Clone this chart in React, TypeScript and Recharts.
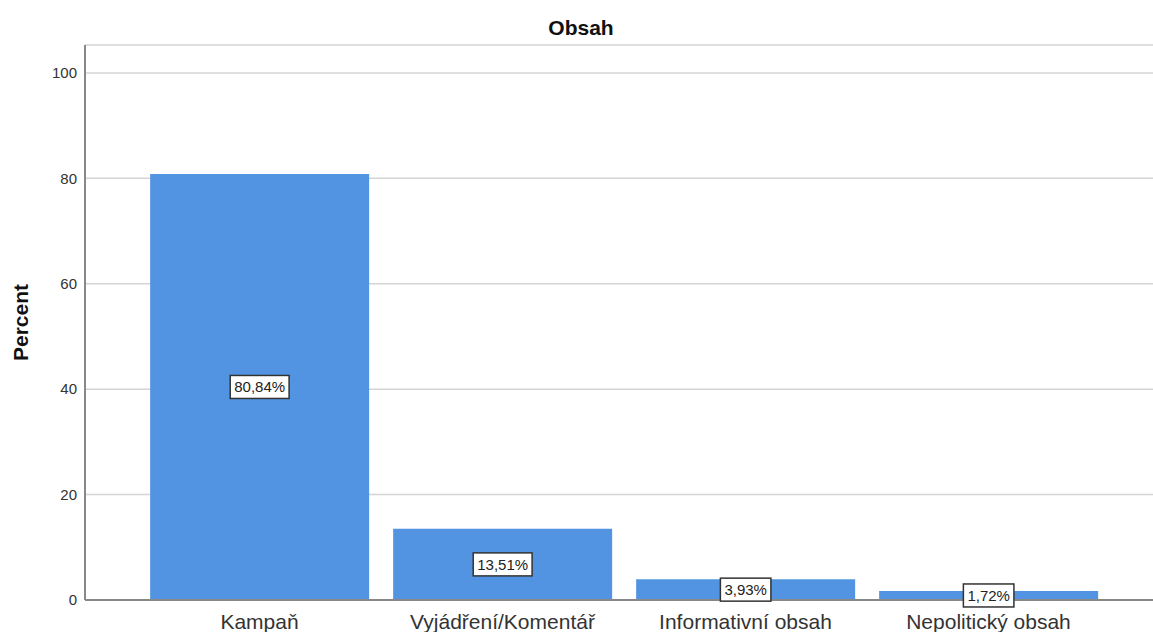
import { Bar, BarChart, CartesianGrid, LabelList, XAxis, YAxis } from "recharts";

const categories = ["Kampaň", "Vyjádření/Komentář", "Informativní obsah", "Nepolitický obsah"];
const percents = [80.84, 13.51, 3.93, 1.72];
const yTicks = [0, 20, 40, 60, 80, 100];

const data = categories.map((name, i) => ({ name, value: percents[i] }));

const FONT = '"Liberation Sans", Arial, sans-serif';

const charW: Record<string, number> = { ",": 0.278, "%": 0.889 };
function textWidth(s: string, size: number) {
  let w = 0;
  for (const c of s) w += charW[c] ?? 0.556;
  return w * size;
}

function formatPct(v: number) {
  return v.toFixed(2).replace(".", ",") + "%";
}

function BoxLabel(props: any) {
  const { x, y, width, height, value } = props;
  const text = formatPct(Number(value));
  const w = textWidth(text, 15) + 8;
  const h = 23;
  const cx = Number(x) + Number(width) / 2;
  const cy = Number(y) + Number(height) / 2;
  return (
    <g>
      <rect
        x={cx - w / 2}
        y={cy - h / 2}
        width={w}
        height={h}
        fill="#fff"
        stroke="#333"
        strokeWidth={1.5}
      />
      <text
        x={cx}
        y={cy}
        textAnchor="middle"
        dominantBaseline="central"
        style={{ fontFamily: FONT, fontSize: 15, fill: "#222" }}
      >
        {text}
      </text>
    </g>
  );
}

function YLabel(props: any) {
  const vb = props.viewBox || {};
  const cy = (vb.y ?? 45) + (vb.height ?? 555) / 2;
  return (
    <text
      x={20}
      y={cy}
      transform={`rotate(-90, 20, ${cy})`}
      textAnchor="middle"
      dominantBaseline="central"
      style={{ fontFamily: FONT, fontSize: 21, fontWeight: 700, fill: "#111" }}
    >
      Percent
    </text>
  );
}

export default function App() {
  return (
    <div style={{ position: "absolute", left: 0, top: 0, width: 1153, height: 632, background: "#fff" }}>
      <div
        style={{
          position: "absolute",
          left: 0,
          width: 1162,
          top: 14,
          textAlign: "center",
          fontFamily: FONT,
          fontSize: 21,
          fontWeight: 700,
          color: "#111",
          lineHeight: "28px",
        }}
      >
        Obsah
      </div>
      <BarChart
        width={1153}
        height={632}
        data={data}
        margin={{ top: 45, right: 0, bottom: 0, left: 0 }}
        barCategoryGap="5%"
        style={{ fontFamily: FONT }}
      >
        <CartesianGrid vertical={false} stroke="#d4d4d4" strokeWidth={1.5} />
        <XAxis
          dataKey="name"
          height={32}
          padding={{ left: 53, right: 43 }}
          tickLine={false}
          tickMargin={8}
          axisLine={{ stroke: "#888", strokeWidth: 2 }}
          tick={{ fontSize: 21, fill: "#333", fontFamily: FONT }}
          interval={0}
        />
        <YAxis
          width={85}
          domain={[0, 105.3]}
          ticks={yTicks}
          tickLine={false}
          axisLine={{ stroke: "#888", strokeWidth: 2 }}
          tick={{ fontSize: 15, fill: "#333", fontFamily: FONT }}
          label={<YLabel />}
        />
        <Bar dataKey="value" fill="#5294e2" isAnimationActive={false}>
          <LabelList dataKey="value" content={<BoxLabel />} />
        </Bar>
      </BarChart>
    </div>
  );
}
